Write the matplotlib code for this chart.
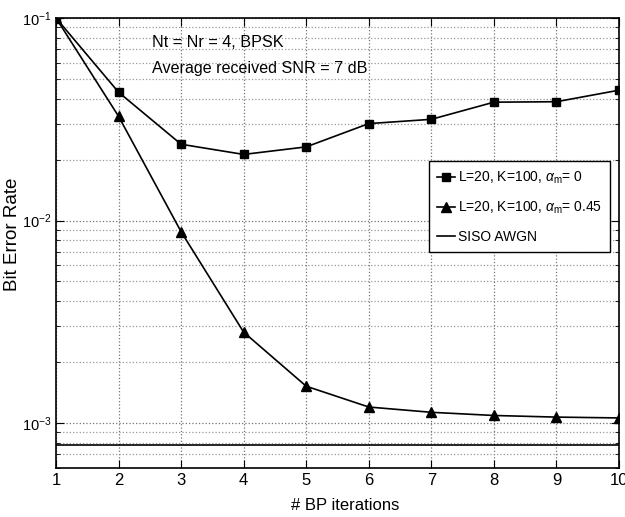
import numpy as np
import matplotlib
matplotlib.use('Agg')
import matplotlib.pyplot as plt
from matplotlib.ticker import LogLocator, NullFormatter

plt.rcParams['font.family'] = ['Liberation Sans', 'DejaVu Sans']
plt.rcParams['mathtext.fontset'] = 'custom'
plt.rcParams['mathtext.rm'] = 'Liberation Sans'
plt.rcParams['mathtext.it'] = 'Liberation Sans:italic'

iters = [1, 2, 3, 4, 5, 6, 7, 8, 9, 10]
ber_a0 = [0.100, 0.043, 0.0238, 0.0212, 0.0231, 0.0301, 0.0316, 0.0384, 0.0386, 0.0440]
ber_a045 = [0.100, 0.0327, 0.0088, 0.00281, 0.00152, 0.00120, 0.00113, 0.00109, 0.00107, 0.00106]
siso_awgn = 7.78e-4

labels = ['L=20, K=100, $\\alpha_{\\mathrm{m}}$= 0',
          'L=20, K=100, $\\alpha_{\\mathrm{m}}$= 0.45',
          'SISO AWGN']

fig = plt.figure(figsize=(6.25, 5.17), dpi=100)
ax = fig.add_axes([0.0896, 0.0948, 0.9008, 0.8704])

ax.semilogy(iters, ber_a0, 'k-s', lw=1.2, ms=5.5, label=labels[0])
ax.semilogy(iters, ber_a045, 'k-^', lw=1.2, ms=7.5, label=labels[1])
ax.axhline(siso_awgn, color='k', lw=1.2, label=labels[2])

ax.set_xlim(1, 10)
ax.set_ylim(6e-4, 1e-1)
ax.set_xticks(iters)
ax.yaxis.set_major_locator(LogLocator(base=10, numticks=10))
ax.yaxis.set_minor_locator(LogLocator(base=10, subs=np.arange(2, 10), numticks=20))
ax.yaxis.set_minor_formatter(NullFormatter())

ax.grid(True, which='major', ls=':', color='0.45', lw=0.9)
ax.grid(True, which='minor', axis='y', ls=':', color='0.6', lw=0.9)
ax.tick_params(which='both', direction='in', top=True, right=True, labelsize=12)
ax.tick_params(axis='y', labelsize=10.5)
ax.tick_params(which='major', length=6)
ax.tick_params(which='minor', length=3)
for s in ax.spines.values():
    s.set_linewidth(1.2)

ax.set_xlabel('# BP iterations', fontsize=12)
ax.set_ylabel('Bit Error Rate', fontsize=13.5)
ax.xaxis.set_label_coords(0.513, -0.067)
ax.yaxis.set_label_coords(-0.063, 0.52)

ax.text(0.17, 0.945, 'Nt = Nr = 4, BPSK', transform=ax.transAxes, fontsize=11.6, va='center')
ax.text(0.17, 0.887, 'Average received SNR = 7 dB', transform=ax.transAxes, fontsize=11.6, va='center')

leg = ax.legend(loc='upper left', bbox_to_anchor=(0.6625, 0.682), fontsize=10,
                fancybox=False, edgecolor='k', framealpha=1, handlelength=1.3,
                handletextpad=0.2, borderpad=0.6, labelspacing=1.0, borderaxespad=0)
leg.get_frame().set_linewidth(1.0)

fig.savefig('out.png', dpi=100)
